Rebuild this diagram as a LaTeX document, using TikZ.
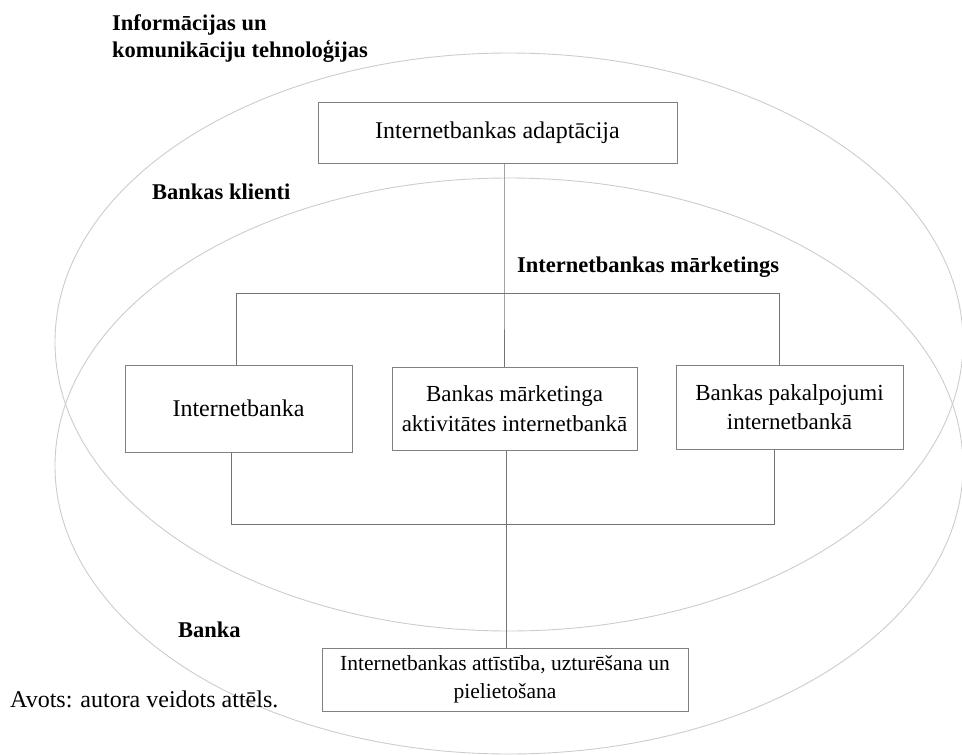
\documentclass[tikz,border=0pt]{standalone}
\usepackage{fontspec}
\setmainfont{Liberation Serif}
\begin{document}
\begin{tikzpicture}[x=1pt,y=-1pt,
  area/.style={draw=black!20,line width=0.9pt},
  box/.style={draw=black!50,line width=1pt,rectangle,inner sep=0pt,align=center,
    font=\fontsize{23}{29.5}\selectfont},
  link/.style={draw=black!55,line width=1pt},
  heading/.style={anchor=base west,inner sep=0pt,align=left,
    font=\fontsize{22.5}{26.5}\selectfont\bfseries}]
\useasboundingbox (0,0) rectangle (962,755);

% overlapping areas
\draw[area] (509,342) ellipse [x radius=454pt, y radius=289pt];
\draw[area] (509,466) ellipse [x radius=454pt, y radius=288pt];

% area labels (a two-line node sits on the baseline of its last line)
\node[heading] (ikt) at (112,57) {Informācijas un\\komunikāciju tehnoloģijas};
\node[heading] (klienti) at (152,199) {Bankas klienti};
\node[heading] (mark) at (517,272) {Internetbankas mārketings};
\node[heading] (banka) at (178,637) {Banka};

% boxes
\node[box,minimum width=359pt,minimum height=61pt,font=\fontsize{24}{29}\selectfont]
  (adapt) at (497.5,132.5) {Internetbankas adaptācija};
\node[box,minimum width=227pt,minimum height=87pt,font=\fontsize{24}{29}\selectfont]
  (ib) at (238.5,408.5) {Internetbanka};
\node[box,minimum width=245pt,minimum height=83pt]
  (act) at (514.5,408.5) {Bankas mārketinga\\aktivitātes internetbankā};
\node[box,minimum width=227pt,minimum height=84pt]
  (svc) at (789.5,407) {Bankas pakalpojumi\\internetbankā};
\node[box,minimum width=366pt,minimum height=63pt,font=\fontsize{21.5}{28}\selectfont]
  (dev) at (505,679.5) {Internetbankas attīstība, uzturēšana un\\pielietošana};

% upper branching
\coordinate (jm) at (504,293);
\coordinate (jl) at (236,293);
\coordinate (jr) at (779,293);
\draw[link] (adapt.south -| jm) -- (jm) -- (act.north -| jm);
\draw[link] (ib.north -| jl) -- (jl) -- (jr) -- (svc.north -| jr);

% lower branching
\coordinate (kl) at (231,524);
\coordinate (kr) at (774,524);
\coordinate (km) at (506,524);
\draw[link] (ib.south -| kl) -- (kl) -- (kr) -- (svc.south -| kr);
\draw[link] (act.south -| km) -- (dev.north -| km);

% source line
\node[anchor=base west,inner sep=0pt,font=\fontsize{24}{28}\selectfont]
  (src) at (10,707) {Avots: autora veidots attēls.};
\end{tikzpicture}
\end{document}
